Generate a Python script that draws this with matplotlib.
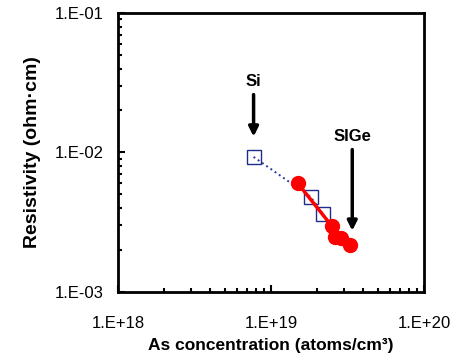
import numpy as np
import matplotlib.pyplot as plt
from matplotlib.ticker import FixedLocator, FixedFormatter, LogLocator, NullFormatter

plt.rcParams['font.family'] = ['Liberation Sans', 'DejaVu Sans']

# Si (open squares)
si_conc = [7.7e18, 1.82e19, 2.19e19]
si_rho = [9.3e-3, 4.8e-3, 3.62e-3]

# SiGe (filled circles)
sige_conc = [1.5e19, 2.5e19, 2.62e19, 2.87e19, 3.28e19]
sige_rho = [6.0e-3, 2.97e-3, 2.48e-3, 2.44e-3, 2.17e-3]

xticks = [1e18, 1e19, 1e20]
xticklabels = ['1.E+18', '1.E+19', '1.E+20']
yticks = [1e-3, 1e-2, 1e-1]
yticklabels = ['1.E-03', '1.E-02', '1.E-01']

fig = plt.figure(figsize=(4.58, 3.62), dpi=100)
ax = fig.add_axes([0.2576, 0.1934, 0.668, 0.7707])

ax.plot(si_conc, si_rho, linestyle=':', color='#2b3a9e', linewidth=1.4,
        marker='s', markersize=9.5, markerfacecolor='none',
        markeredgecolor='#1f2d8a', markeredgewidth=1.0)
ax.plot(sige_conc[:2], sige_rho[:2], '-', color='red', linewidth=2.5)
ax.plot(sige_conc, sige_rho, 'o', color='red', markersize=10, linestyle='none')

ax.set_xscale('log')
ax.set_yscale('log')
ax.set_xlim(1e18, 1e20)
ax.set_ylim(1e-3, 1e-1)

ax.xaxis.set_major_locator(FixedLocator(xticks))
ax.xaxis.set_major_formatter(FixedFormatter(xticklabels))
ax.yaxis.set_major_locator(FixedLocator(yticks))
ax.yaxis.set_major_formatter(FixedFormatter(yticklabels))
ax.xaxis.set_minor_locator(LogLocator(base=10, subs=np.arange(2, 10)))
ax.yaxis.set_minor_locator(LogLocator(base=10, subs=np.arange(2, 10)))
ax.xaxis.set_minor_formatter(NullFormatter())
ax.yaxis.set_minor_formatter(NullFormatter())

ax.tick_params(which='both', direction='in', width=1.5, labelsize=12)
ax.tick_params(axis='x', which='both', pad=17)
ax.tick_params(axis='y', which='both', pad=10)
ax.tick_params(which='major', length=5)
ax.tick_params(which='minor', length=3)
for s in ax.spines.values():
    s.set_linewidth(2)

ax.set_xlabel('As concentration (atoms/cm³)', fontsize=12.5,
              fontweight='bold', labelpad=5)
ax.set_ylabel('Resistivity (ohm·cm)', fontsize=14, fontweight='bold', labelpad=10)

ax.annotate('Si', xy=(7.7e18, 1.3e-2), xytext=(7.7e18, 2.85e-2),
            ha='center', va='bottom', fontsize=12, fontweight='bold',
            arrowprops=dict(arrowstyle='-|>', color='black', lw=2.5,
                            mutation_scale=14, shrinkA=2, shrinkB=0))
ax.annotate('SIGe', xy=(3.4e19, 2.75e-3), xytext=(3.4e19, 1.15e-2),
            ha='center', va='bottom', fontsize=12, fontweight='bold',
            arrowprops=dict(arrowstyle='-|>', color='black', lw=2.5,
                            mutation_scale=14, shrinkA=2, shrinkB=0))

fig.savefig('out.png', dpi=100)
